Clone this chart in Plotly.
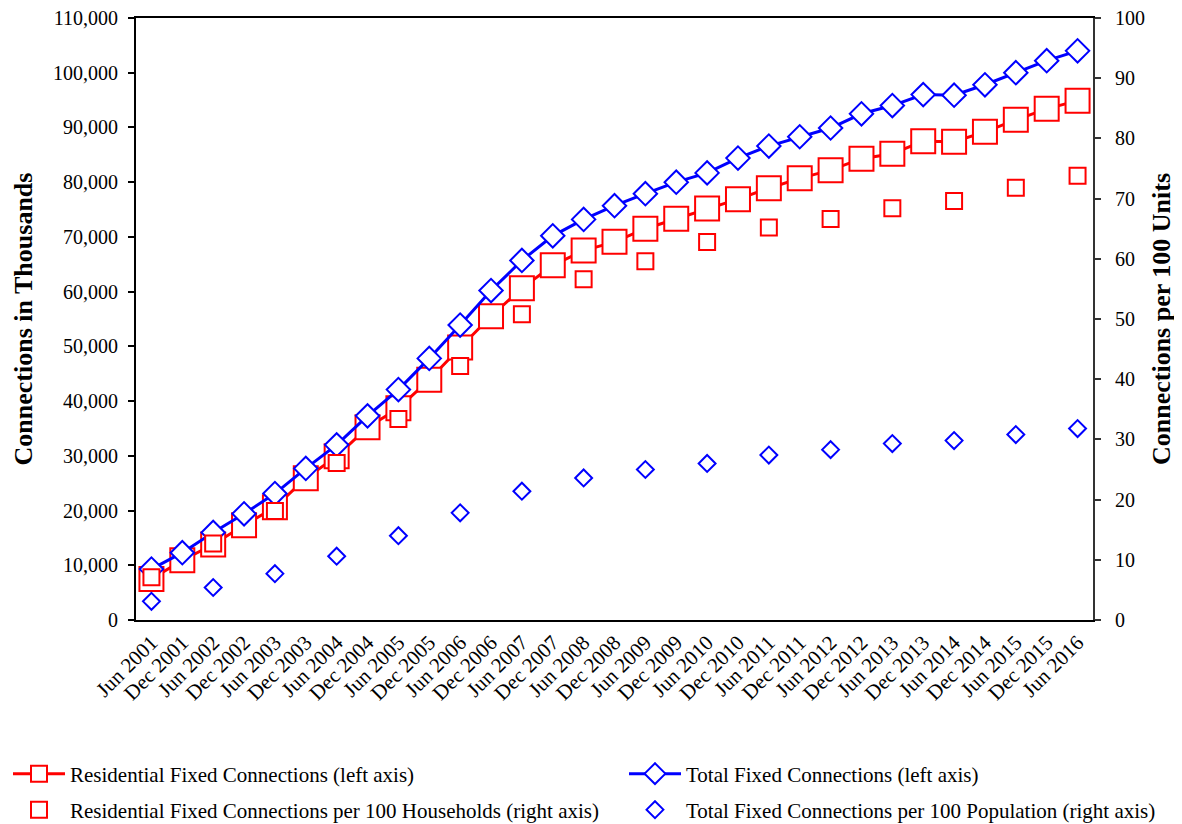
import plotly.graph_objects as go

periods = ["Jun 2001", "Dec 2001", "Jun 2002", "Dec 2002", "Jun 2003", "Dec 2003",
           "Jun 2004", "Dec 2004", "Jun 2005", "Dec 2005", "Jun 2006", "Dec 2006",
           "Jun 2007", "Dec 2007", "Jun 2008", "Dec 2008", "Jun 2009", "Dec 2009",
           "Jun 2010", "Dec 2010", "Jun 2011", "Dec 2011", "Jun 2012", "Dec 2012",
           "Jun 2013", "Dec 2013", "Jun 2014", "Dec 2014", "Jun 2015", "Dec 2015",
           "Jun 2016"]

# Connections in thousands (left axis)
residential_fixed = [7500, 10900, 13800, 17300, 20600, 25900, 29900, 35200, 38700, 43900,
                     49800, 55500, 60600, 64800, 67500, 69100, 71500, 73300, 75200, 76900,
                     78900, 80700, 82200, 84300, 85200, 87500, 87400, 89200, 91400, 93400,
                     94900]
total_fixed = [9300, 12300, 16000, 19400, 23100, 27700, 32000, 37300, 42100, 47800,
               53900, 60200, 65700, 70200, 73200, 75700, 77900, 80000, 81700, 84400,
               86600, 88300, 89900, 92500, 94000, 96000, 95900, 97800, 100000, 102200,
               104000]

# Connections per 100 units (right axis), June of each year
june_periods = periods[::2]
residential_per_100_households = [7.1, 12.7, 18.1, 26.1, 33.4, 42.2, 50.8, 56.6, 59.6, 62.8,
                                  65.2, 66.6, 68.4, 69.6, 71.8, 73.8]
total_per_100_population = [3.1, 5.4, 7.7, 10.6, 14.0, 17.8, 21.4, 23.6, 25.0, 26.0,
                            27.4, 28.3, 29.3, 29.8, 30.8, 31.8]

RED = "#FF0000"
BLUE = "#0000FF"
FONT = "Liberation Serif"
# the page body has an 8px margin, so the figure sits at (8, 8)
W, H = 1174, 816

fig = go.Figure()

fig.add_trace(go.Scatter(
    x=periods, y=residential_fixed, mode="lines+markers",
    name="Residential Fixed Connections (left axis)",
    line=dict(color=RED, width=3),
    marker=dict(symbol="square", size=24, color="white", line=dict(width=2, color=RED)),
    yaxis="y", legend="legend"))

fig.add_trace(go.Scatter(
    x=periods, y=total_fixed, mode="lines+markers",
    name="Total Fixed Connections (left axis)",
    line=dict(color=BLUE, width=3),
    marker=dict(symbol="diamond", size=18, color="white", line=dict(width=2, color=BLUE)),
    yaxis="y", legend="legend2"))

fig.add_trace(go.Scatter(
    x=june_periods, y=residential_per_100_households, mode="markers",
    name="Residential Fixed Connections per 100 Households (right axis)",
    marker=dict(symbol="square", size=16, color="white", line=dict(width=2, color=RED)),
    yaxis="y2", legend="legend3"))

fig.add_trace(go.Scatter(
    x=june_periods, y=total_per_100_population, mode="markers",
    name="Total Fixed Connections per 100 Population (right axis)",
    marker=dict(symbol="diamond", size=13, color="white", line=dict(width=2, color=BLUE)),
    yaxis="y2", legend="legend4"))

legend_common = dict(
    orientation="h", xref="container", yref="container", xanchor="left", yanchor="middle",
    font=dict(family=FONT, size=21, color="black"),
    itemwidth=52, bgcolor="rgba(0,0,0,0)")

col1_x = -9 / W
col2_x = 616 / W
row1_y = 50 / H
row2_y = 14 / H

fig.update_layout(
    width=W, height=H,
    margin=dict(l=128, r=89, t=10, b=204, autoexpand=False),
    paper_bgcolor="white", plot_bgcolor="white",
    font=dict(family=FONT, color="black"),
    showlegend=True,
    legend=dict(x=col1_x, y=row1_y, **legend_common),
    legend2=dict(x=col2_x, y=row1_y, **legend_common),
    legend3=dict(x=col1_x, y=row2_y, **legend_common),
    legend4=dict(x=col2_x, y=row2_y, **legend_common),
    xaxis=dict(
        type="category", categoryorder="array", categoryarray=periods,
        range=[-0.5, len(periods) - 0.5], automargin=False,
        showline=True, linecolor="black", linewidth=2, mirror=True,
        showgrid=False, zeroline=False, ticks="",
        tickangle=-45, tickfont=dict(family=FONT, size=21, color="black")),
    yaxis=dict(
        range=[0, 110000], dtick=10000, tickformat=",", automargin=False,
        showline=True, linecolor="black", linewidth=2,
        showgrid=False, zeroline=False,
        ticks="outside", ticklen=6, tickwidth=1.5, tickcolor="black",
        ticklabelstandoff=6, ticklabeloverflow="allow",
        tickfont=dict(family=FONT, size=20, color="black"),
        title=dict(text="<b>Connections in Thousands</b>", standoff=13,
                   font=dict(family=FONT, size=26, color="black"))),
    yaxis2=dict(
        range=[0, 100], dtick=10, overlaying="y", side="right", anchor="x", automargin=False,
        showline=True, linecolor="#333333", linewidth=2,
        showgrid=False, zeroline=False,
        ticks="outside", ticklen=6, tickwidth=1.5, tickcolor="#333333",
        ticklabelstandoff=10, ticklabeloverflow="allow",
        tickfont=dict(family=FONT, size=20, color="black"),
        title=dict(text="<b>Connections per 100 Units</b>", standoff=8,
                   font=dict(family=FONT, size=26, color="black"))),
    yaxis3=dict(
        range=[0, 110000], dtick=10000, overlaying="y", side="left", anchor="x",
        automargin=False,
        showline=False, showgrid=False, zeroline=False, showticklabels=False,
        ticks="inside", ticklen=6, tickwidth=1.5, tickcolor="black"),
    yaxis4=dict(
        range=[0, 100], dtick=10, overlaying="y", side="right", anchor="x",
        automargin=False,
        showline=False, showgrid=False, zeroline=False, showticklabels=False,
        ticks="inside", ticklen=6, tickwidth=1.5, tickcolor="#333333"),
)

fig.write_html("out.html")
